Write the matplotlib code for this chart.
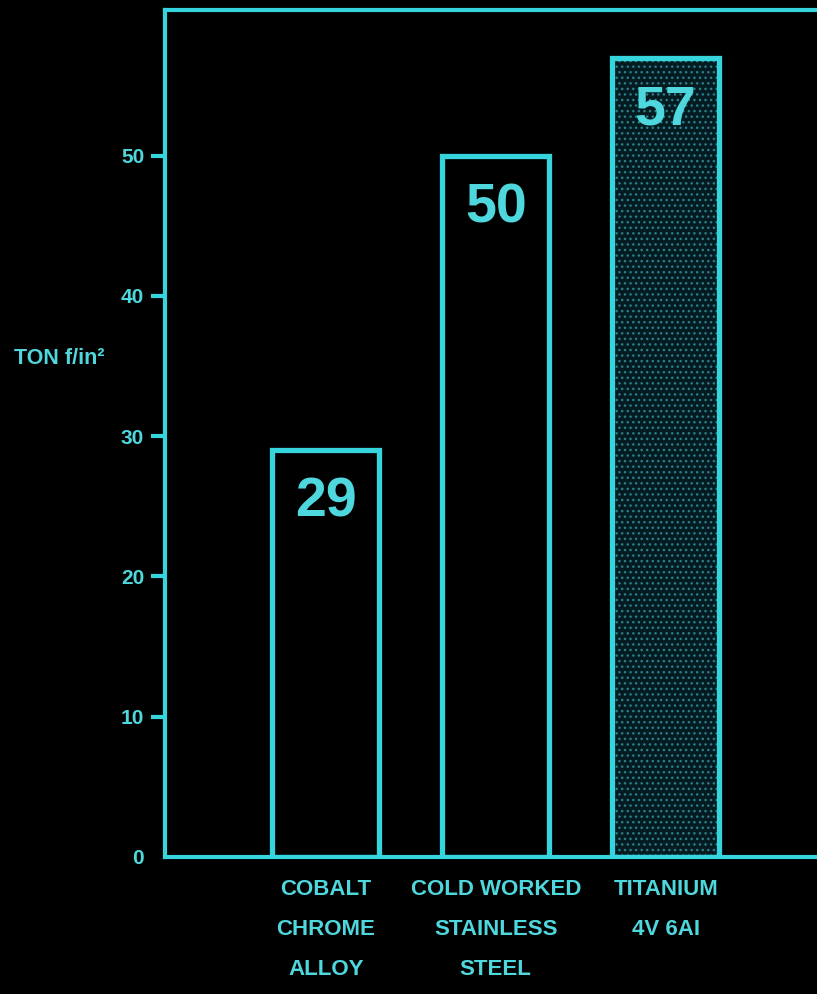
import matplotlib.pyplot as plt
import numpy as np

categorias = ['COBALT\nCHROME\nALLOY', 'COLD WORKED\nSTAINLESS\nSTEEL', 'TITANIUM\n4V 6AI']
valores = [29, 50, 57]
yticks = [0, 10, 20, 30, 40, 50]

ciano = '#36D4DC'
texto = '#4ED8DE'
fonte = ['Liberation Sans', 'DejaVu Sans']

fig = plt.figure(figsize=(8.17, 9.94), dpi=100, facecolor='black')
ax = fig.add_axes([0.202, 0.138, 0.85, 0.852], facecolor='black')

x = np.arange(len(valores))
largura = 0.63

# barras vazias, a ultima pontilhada
ax.bar(x[2], valores[2], width=largura, color='#041c21', edgecolor='#2a8088',
       hatch='...', linewidth=0, zorder=2)
ax.bar(x, valores, width=largura, fill=False, edgecolor=ciano, linewidth=3.8, zorder=3)

for xi, v in zip(x, valores):
    ax.text(xi, v - 1.9, str(v), ha='center', va='top', color=texto,
            fontsize=40, fontweight='bold', family=fonte, zorder=4)

ax.set_xlim(-0.947, -0.947 + 695 / 170)
ax.set_ylim(0, 60.4)
ax.set_xticks(x)
ax.set_xticklabels(categorias, color=texto, fontsize=16, fontweight='bold',
                   family=fonte, linespacing=2.2)
ax.set_yticks(yticks)
ax.set_yticklabels([str(t) for t in yticks], color=texto, fontsize=15,
                   fontweight='bold', family=fonte)
ax.tick_params(axis='x', length=0, pad=16)
ax.tick_params(axis='y', length=10, width=3, color=ciano, pad=5)
ax.yaxis.get_major_ticks()[0].tick1line.set_visible(False)

for lado in ['left', 'bottom', 'top']:
    ax.spines[lado].set_color(ciano)
    ax.spines[lado].set_linewidth(3)
ax.spines['right'].set_visible(False)

fig.text(0.072, 0.639, 'TON f/in²', color=texto, fontsize=15.5, fontweight='bold',
         family=fonte, ha='center', va='center')

fig.savefig('out.png', dpi=100, facecolor='black')
